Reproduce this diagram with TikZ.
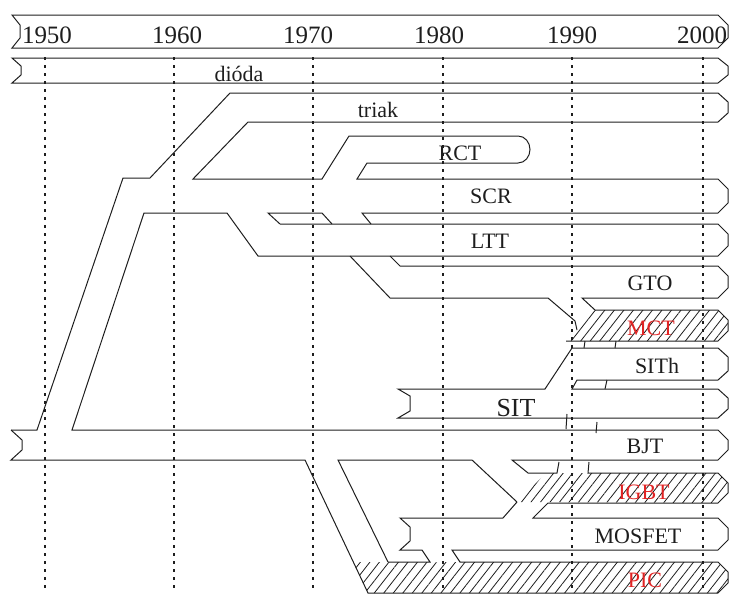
\documentclass[tikz,border=0pt]{standalone}
\usepackage{fontspec}
\setmainfont{Liberation Serif}
\usetikzlibrary{patterns.meta}
\definecolor{ink}{RGB}{30,30,30}
\definecolor{redlbl}{RGB}{225,35,35}
\begin{document}
\begin{tikzpicture}[x=1pt,y=-1pt,
  band/.style={draw=ink,line width=1pt,line join=miter},
  hatchfill/.style={pattern={Lines[angle=52,distance=7.5pt,line width=0.8pt]},pattern color=ink},
  grid/.style={draw=ink,line width=1.2pt,dash pattern=on 3pt off 5pt},
  year/.style={anchor=base,inner sep=0pt,font=\fontsize{25}{28}\selectfont,text=ink},
  lbl/.style={anchor=base,inner sep=0pt,font=\fontsize{22}{25}\selectfont,text=ink},
  rlbl/.style={lbl,text=redlbl}]
\useasboundingbox (0,0) rectangle (729,597);
% hatched regions
\fill[hatchfill] (566,341)--(595,310)--(718,310)--(728,320)--(728,331)--(718,341)--cycle;
\fill[hatchfill] (517,502)--(546,473)--(718,473)--(728,483)--(728,493)--(718,503)--cycle;
\fill[hatchfill] (353,562)--(718,562)--(728,572)--(728,583)--(718,593)--(368,593)--cycle;
% year grid
\foreach \gx in {45,174,313,443,572,703} \draw[grid] (\gx,57)--(\gx,592);
% year band
\draw[band] (12,15)--(718,15)--(728,25)--(728,38)--(718,48)--(12,48)--(20,38)--(20,25)--cycle;
% dioda band
\draw[band] (12,58)--(718,58)--(728,66)--(728,75)--(718,83)--(12,83)--(21,75)--(21,66)--cycle;
% triak, RCT, SCR
\draw[band] (11,430)--(37,430)--(123,178)--(150,178)--(230,93)--(718,93)--(728,102)--(728,113)--(718,122)--(248,122)--(193,179)--(322,179)--(349,136)--(518,136) to[out=0,in=90] (530,149.5) to[out=-90,in=0] (518,163)--(367,163)--(357,179)--(718,179)--(728,189)--(728,203)--(718,213)--(362,213)--(371,224);
\draw[band] (280,224)--(268,213)--(322,213)--(332,224);
% LTT and BJT top
\draw[band] (280,224)--(718,224)--(728,234)--(728,246)--(718,256)--(258,256)--(227,213)--(144,213)--(72,430)--(718,430)--(728,440)--(728,450)--(718,460)--(512,460)--(528,473)--(557,473)--(559,462);
% GTO
\draw[band] (350,256)--(390,298)--(548,298)--(575,321)--(577,330);
\draw[band] (390,256)--(400,266)--(718,266)--(728,276)--(728,288)--(718,298)--(582,298)--(595,310)--(718,310)--(728,320)--(728,331)--(718,341)--(566,341);
\draw[band] (585,341)--(584,348) (616,341)--(615,348);
% SITh / SIT
\draw[band] (398,389)--(545,389)--(572,348)--(718,348)--(728,357)--(728,371)--(718,380)--(577,380)--(572,389)--(718,389)--(728,398)--(728,409)--(718,418)--(398,418)--(410,411)--(410,396)--cycle;
\draw[band] (607,380)--(605,389);
\draw[band] (567,414)--(566,429) (597,422)--(596,433);
% BJT bottom, IGBT, MOSFET, PIC
\draw[band] (11,430)--(22,440)--(22,450)--(11,460)--(305,460)--(368,593)--(718,593)--(728,583)--(728,572)--(718,562)--(460,562)--(452,550)--(718,550)--(728,540)--(728,528)--(718,518)--(533,518)--(548,503)--(718,503)--(728,493)--(728,483)--(718,473)--(588,473)--(589,462);
\draw[band] (388,562)--(338,460)--(472,460)--(517,502);
\draw[band] (388,562)--(430,562)--(422,550)--(400,550)--(410,541)--(410,527)--(400,518)--(503,518)--(517,502);
% labels
\node[year] (y1950) at (47,43) {1950};
\node[year] (y1960) at (177,43) {1960};
\node[year] (y1970) at (308,43) {1970};
\node[year] (y1980) at (439,43) {1980};
\node[year] (y1990) at (572,43) {1990};
\node[year] (y2000) at (702,43) {2000};
\node[lbl] (ldioda) at (239,81) {dióda};
\node[lbl] (ltriak) at (378,117) {triak};
\node[lbl] (lrct) at (460,160) {RCT};
\node[lbl] (lscr) at (491,203) {SCR};
\node[lbl] (lltt) at (490,248) {LTT};
\node[lbl] (lgto) at (650,290) {GTO};
\node[rlbl] (lmct) at (651,335) {MCT};
\node[lbl] (lsith) at (657,373) {SITh};
\node[lbl,font=\fontsize{26}{29}\selectfont] (lsit) at (516,416) {SIT};
\node[lbl] (lbjt) at (645,453) {BJT};
\node[rlbl] (ligbt) at (644,499) {IGBT};
\node[lbl] (lmosfet) at (638,543) {MOSFET};
\node[rlbl] (lpic) at (645,587) {PIC};
\end{tikzpicture}
\end{document}
